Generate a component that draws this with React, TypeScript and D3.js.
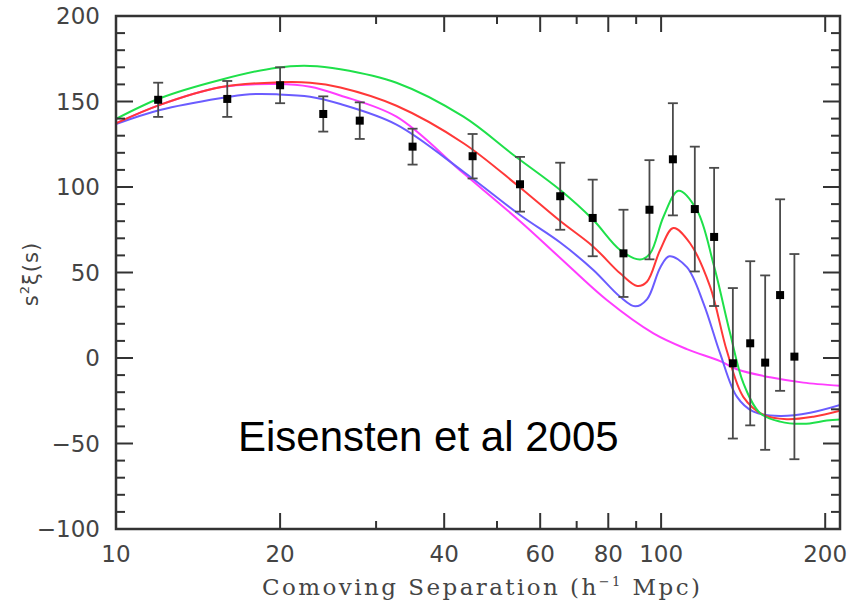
import React from 'react';
import * as d3 from 'd3';

// measured points: separation (h^-1 Mpc), s^2 xi(s), 1-sigma error
const pointSep = [11.95, 16.0, 20.0, 24.0, 28.0, 35.0, 45.1, 55.1, 65.3, 74.9, 85.3, 95.2, 105.1, 115.3, 125.1, 135.4, 145.7, 155.2, 165.3, 175.6];
const pointXi = [151, 151.5, 159.5, 142.7, 138.8, 123.6, 118, 101.6, 94.6, 81.9, 61.2, 86.7, 116.2, 87.1, 70.8, -3.1, 8.6, -2.7, 36.8, 0.8];
const pointErr = [10, 10.5, 10.5, 10.3, 10.7, 10.5, 13, 16, 19.6, 22.4, 25.5, 29, 32.8, 36.5, 40.4, 44, 48, 51, 56, 60];

// model curves
const greenSep = [10, 12.04, 15.52, 19.72, 22.7, 25.8, 32.7, 43.4, 53.6, 65.3, 75.1, 84.1, 91.5, 95.5, 101, 107.6, 116.3, 124.7, 133.8, 141.6, 152, 165.3, 182.4, 201.4, 213];
const greenXi = [139.8, 151.9, 162.6, 169.8, 170.8, 168.9, 161.0, 141.1, 118.7, 98.2, 80.7, 63.2, 57.6, 61.2, 82.6, 97.8, 86.5, 55.3, 14.6, -14.8, -32.3, -37.2, -38.5, -36.6, -35.9];

const redSep = [10, 12.04, 15.52, 19.72, 22.7, 25.8, 32.7, 43.4, 54.4, 65.3, 75.1, 84.1, 90.4, 94.2, 99.6, 105.3, 113, 123, 132, 141.6, 154.1, 170.1, 190.3, 213];
const redXi = [137.2, 148.0, 158.3, 161.2, 161.0, 158.2, 147.5, 125.6, 101.2, 80.1, 65.1, 49.5, 42.1, 44.6, 63.2, 76.0, 67.1, 41.7, 4.2, -22.9, -33.3, -35.8, -34.3, -30.8];

const blueSep = [10, 12.04, 15.52, 17.6, 19.72, 22.7, 25.8, 32.7, 43.4, 55.1, 65.3, 75.1, 84.1, 89.6, 94.2, 99.6, 103.5, 111.5, 119.6, 128.3, 137.7, 147.7, 165.3, 187.7, 213];
const blueXi = [136.8, 145.0, 151.9, 154.2, 154.2, 152.8, 148.5, 136.5, 108.9, 83.6, 67.5, 51.5, 35.8, 30.2, 34.3, 52.8, 59.5, 53.1, 32.0, 2.7, -22.6, -31.4, -33.9, -32, -27.5];

const magentaSep = [10, 12.04, 15.52, 19.72, 22.7, 25.8, 32.7, 43.4, 55.1, 65.3, 79.5, 96.8, 111.5, 128.3, 137.7, 158.5, 182.4, 213];
const magentaXi = [137.2, 148.0, 158.3, 160.2, 158.6, 153.5, 141.1, 108.0, 80.0, 58.5, 33.9, 14.4, 5.2, -1.8, -6.6, -11.3, -14.4, -16.3];

const xTickLabels = [10, 20, 40, 60, 80, 100, 200];
const xMajorTicks = [20, 40, 60, 80, 100, 200];
const xMinorTicks = [30, 50, 70, 90];
const yTickLabels = [-100, -50, 0, 50, 100, 150, 200];

const left = 116, right = 840, top = 16, bottom = 529;

const App = () => {
  const x = d3.scaleLog().domain([10, 212.9]).range([left, right]);
  const y = d3.scaleLinear().domain([-100, 200]).range([bottom, top]);

  const mkLine = (sep: number[], xi: number[]) =>
    d3.line<number>()
      .x((_, i) => x(sep[i]))
      .y((v) => y(v))
      .curve(d3.curveCatmullRom.alpha(0.5))(xi) as string;

  const curves = [
    { d: mkLine(magentaSep, magentaXi), c: '#ff3dff' },
    { d: mkLine(blueSep, blueXi), c: '#6b5cff' },
    { d: mkLine(redSep, redXi), c: '#ff3838' },
    { d: mkLine(greenSep, greenXi), c: '#1fe04a' },
  ];

  const yMinor = d3.range(-90, 200, 10).filter((v) => v % 50 !== 0);
  const tickColor = '#333';
  const labelFont = '"DejaVu Sans", sans-serif';

  return (
    <svg width={850} height={607} style={{ position: 'absolute', left: 0, top: 0, background: '#fff' }}>
      <defs>
        <clipPath id="plot">
          <rect x={left} y={top} width={right - left} height={bottom - top} />
        </clipPath>
      </defs>

      {/* curves */}
      <g clipPath="url(#plot)" fill="none" strokeWidth={2}>
        {curves.map((c, i) => (
          <path key={i} d={c.d} stroke={c.c} />
        ))}
      </g>

      {/* error bars + points */}
      <g stroke="#4a4a4a" strokeWidth={1.8}>
        {pointSep.map((s, i) => {
          const px = x(s);
          const y1 = y(pointXi[i] + pointErr[i]);
          const y2 = y(pointXi[i] - pointErr[i]);
          return (
            <g key={i}>
              <line x1={px} x2={px} y1={y1} y2={y2} />
              <line x1={px - 5} x2={px + 5} y1={y1} y2={y1} />
              <line x1={px - 5} x2={px + 5} y1={y2} y2={y2} />
            </g>
          );
        })}
      </g>
      <g fill="#000">
        {pointSep.map((s, i) => (
          <rect key={i} x={x(s) - 4} y={y(pointXi[i]) - 4} width={8} height={8} />
        ))}
      </g>

      {/* frame and ticks */}
      <g stroke={tickColor} strokeWidth={2}>
        <rect x={left} y={top} width={right - left} height={bottom - top} fill="none" strokeWidth={2.5} />
        {yTickLabels.map((v) => (
          <g key={'ym' + v}>
            <line x1={left} x2={left + 17} y1={y(v)} y2={y(v)} />
            <line x1={right} x2={right - 17} y1={y(v)} y2={y(v)} />
          </g>
        ))}
        {yMinor.map((v) => (
          <g key={'yn' + v}>
            <line x1={left} x2={left + 9} y1={y(v)} y2={y(v)} />
            <line x1={right} x2={right - 9} y1={y(v)} y2={y(v)} />
          </g>
        ))}
        {xMajorTicks.map((v) => (
          <g key={'xm' + v}>
            <line x1={x(v)} x2={x(v)} y1={bottom} y2={bottom - 16} />
            <line x1={x(v)} x2={x(v)} y1={top} y2={top + 16} />
          </g>
        ))}
        {xMinorTicks.map((v) => (
          <g key={'xn' + v}>
            <line x1={x(v)} x2={x(v)} y1={bottom} y2={bottom - 8} />
            <line x1={x(v)} x2={x(v)} y1={top} y2={top + 8} />
          </g>
        ))}
      </g>

      {/* tick labels */}
      <g fill="#444" fontFamily={labelFont} fontSize={23}>
        {yTickLabels.map((v) => (
          <text key={'yl' + v} x={100} y={y(v)} dy="0.36em" textAnchor="end">
            {v < 0 ? '\u2212' + Math.abs(v) : v}
          </text>
        ))}
        {xTickLabels.map((v) => (
          <text key={'xl' + v} x={x(v)} y={562} textAnchor="middle">
            {v}
          </text>
        ))}
      </g>

      {/* axis titles */}
      <text
        x={262}
        y={595}
        fontFamily='"DejaVu Serif", serif'
        fontSize={23}
        fill="#444"
        textLength={438}
        lengthAdjust="spacing"
      >
        Comoving Separation (h
        <tspan fontSize={13} dy={-9}>{'\u22121'}</tspan>
        <tspan dy={9}> Mpc)</tspan>
      </text>
      <text
        transform="translate(38,274) rotate(-90)"
        textAnchor="middle"
        fontFamily={labelFont}
        fontSize={21}
        fill="#444"
        letterSpacing={1}
      >
        s<tspan fontSize={13} dy={-9}>2</tspan>
        <tspan dy={9}>{'\u03be(s)'}</tspan>
      </text>

      {/* annotation */}
      <text x={238} y={451} fontFamily='"Liberation Sans", Arial, sans-serif' fontSize={42} fill="#000">
        Eisensten et al 2005
      </text>
    </svg>
  );
};

export default App;
